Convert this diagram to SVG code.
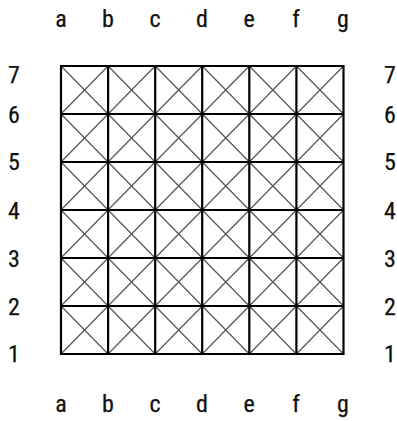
<svg xmlns="http://www.w3.org/2000/svg" width="397" height="421" viewBox="0 0 397 421">
<style>
.lbl{font-family:"Liberation Sans Narrow","Roboto Condensed","Liberation Sans",Arial,sans-serif;font-size:24px;fill:#111;stroke:#111;stroke-width:0.25;text-anchor:middle}
.row{dominant-baseline:central}
.grid{stroke:#000;stroke-width:2.2;fill:none}
.diag{stroke:#555;stroke-width:1.2;fill:none}
</style>
<rect width="397" height="421" fill="#fff"/>
<g id="connectors">
<path class="diag" d="M61,66L343.5,354M61,114L296.4,354M61,162L249.3,354M61,210L202.2,354M61,258L155.2,354M61,306L108.1,354M108.1,66L343.5,306M155.2,66L343.5,258M202.2,66L343.5,210M249.3,66L343.5,162M296.4,66L343.5,114"/>
<path class="diag" d="M343.5,66L61,354M296.4,66L61,306M249.3,66L61,258M202.2,66L61,210M155.2,66L61,162M108.1,66L61,114M343.5,114L108.1,354M343.5,162L155.2,354M343.5,210L202.2,354M343.5,258L249.3,354M343.5,306L296.4,354"/>
<path class="grid" d="M61,66H343.5V354H61Z M108.1,66V354M155.2,66V354M202.2,66V354M249.3,66V354M296.4,66V354 M61,114H343.5M61,162H343.5M61,210H343.5M61,258H343.5M61,306H343.5"/>
</g>
<g id="col-labels-top">
<text class="lbl" x="61" y="27">a</text>
<text class="lbl" x="108" y="27">b</text>
<text class="lbl" x="155" y="27">c</text>
<text class="lbl" x="202" y="27">d</text>
<text class="lbl" x="249" y="27">e</text>
<text class="lbl" x="296" y="27">f</text>
<text class="lbl" x="343" y="27">g</text>
</g>
<g id="col-labels-bottom">
<text class="lbl" x="61" y="412">a</text>
<text class="lbl" x="108" y="412">b</text>
<text class="lbl" x="155" y="412">c</text>
<text class="lbl" x="202" y="412">d</text>
<text class="lbl" x="249" y="412">e</text>
<text class="lbl" x="296" y="412">f</text>
<text class="lbl" x="343" y="412">g</text>
</g>
<g id="row-labels-left">
<text class="lbl row" x="14" y="75">7</text>
<text class="lbl row" x="14" y="115">6</text>
<text class="lbl row" x="14" y="162">5</text>
<text class="lbl row" x="14" y="211">4</text>
<text class="lbl row" x="14" y="259">3</text>
<text class="lbl row" x="14" y="307">2</text>
<text class="lbl row" x="14" y="354">1</text>
</g>
<g id="row-labels-right">
<text class="lbl row" x="390" y="75">7</text>
<text class="lbl row" x="390" y="115">6</text>
<text class="lbl row" x="390" y="162">5</text>
<text class="lbl row" x="390" y="211">4</text>
<text class="lbl row" x="390" y="259">3</text>
<text class="lbl row" x="390" y="307">2</text>
<text class="lbl row" x="390" y="354">1</text>
</g>
</svg>
